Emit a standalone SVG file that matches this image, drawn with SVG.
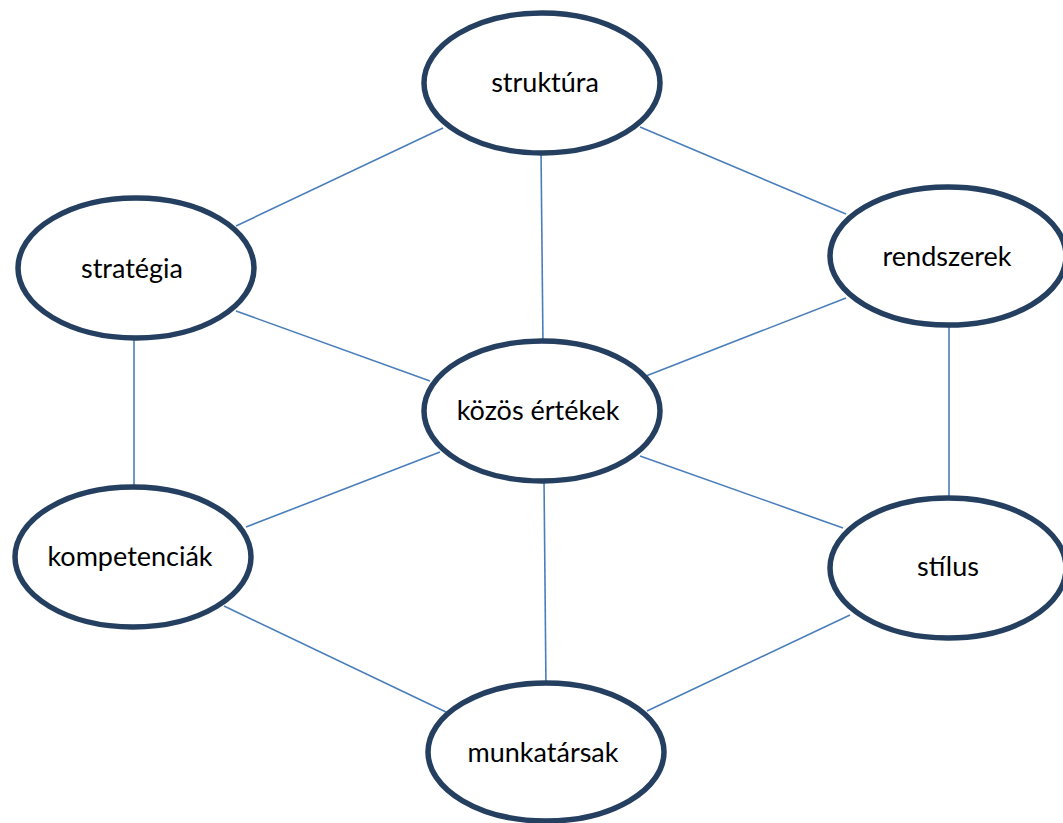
<svg xmlns="http://www.w3.org/2000/svg" width="1063" height="823" viewBox="0 0 1063 823">
  <style>
    .link { stroke: #4a7ebb; stroke-width: 1.6; fill: none; }
    .node ellipse { fill: #ffffff; stroke: #243f60; stroke-width: 5.5; }
    .node text { font-family: Lato, "Open Sans", sans-serif; font-size: 27px; fill: #000000; text-anchor: middle; }
  </style>
  <rect width="1063" height="823" fill="#ffffff"/>

  <!-- connectors between the seven elements -->
  <g id="connectors">
    <line class="link" x1="443" y1="128" x2="236" y2="226"/>
    <line class="link" x1="640" y1="127" x2="846" y2="214"/>
    <line class="link" x1="541" y1="150" x2="543" y2="345"/>
    <line class="link" x1="236" y1="311" x2="430" y2="381"/>
    <line class="link" x1="846" y1="298" x2="646" y2="376"/>
    <line class="link" x1="134" y1="335" x2="134" y2="490"/>
    <line class="link" x1="949" y1="320" x2="949" y2="500"/>
    <line class="link" x1="440" y1="452" x2="246" y2="527"/>
    <line class="link" x1="640" y1="456" x2="843" y2="528"/>
    <line class="link" x1="544" y1="478" x2="546" y2="688"/>
    <line class="link" x1="224" y1="606" x2="446" y2="712"/>
    <line class="link" x1="850" y1="615" x2="647" y2="711"/>
  </g>

  <g id="struktura" class="node">
    <ellipse cx="542" cy="83" rx="118" ry="70"/>
    <text x="545" y="92">struktúra</text>
  </g>
  <g id="strategia" class="node">
    <ellipse cx="136" cy="268" rx="118" ry="70"/>
    <text x="132" y="278">stratégia</text>
  </g>
  <g id="rendszerek" class="node">
    <ellipse cx="948" cy="256" rx="118" ry="69"/>
    <text x="947" y="266">rendszerek</text>
  </g>
  <g id="kozos-ertekek" class="node">
    <ellipse cx="542" cy="411" rx="118" ry="70"/>
    <text x="538" y="420">közös értékek</text>
  </g>
  <g id="kompetenciak" class="node">
    <ellipse cx="133" cy="557" rx="118" ry="70"/>
    <text x="130" y="566">kompetenciák</text>
  </g>
  <g id="stilus" class="node">
    <ellipse cx="948" cy="568" rx="118" ry="70"/>
    <text x="948" y="576">stílus</text>
  </g>
  <g id="munkatarsak" class="node">
    <ellipse cx="546" cy="752" rx="118" ry="69"/>
    <text x="543" y="762">munkatársak</text>
  </g>
</svg>
